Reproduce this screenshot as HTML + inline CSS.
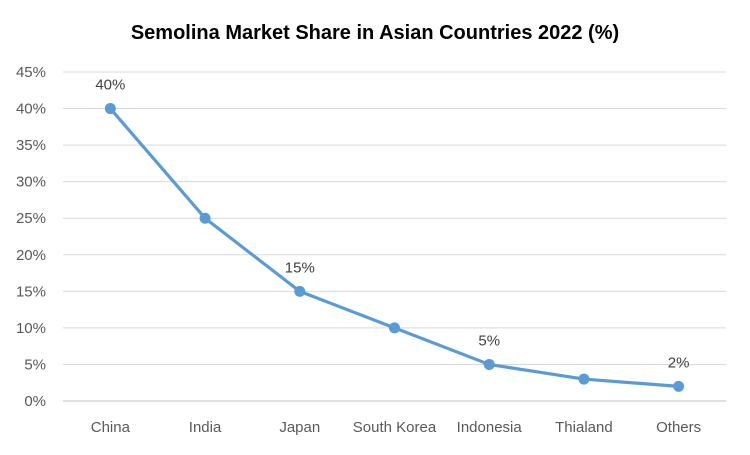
<!DOCTYPE html>
<html><head><meta charset="utf-8"><style>
body{margin:0;background:#fff;}
svg text{font-family:"Liberation Sans",sans-serif;}
</style></head><body>
<svg id="chart" width="750" height="450">
<text x="375" y="39" text-anchor="middle" font-size="20" font-weight="bold" fill="#000">Semolina Market Share in Asian Countries 2022 (%)</text>
<g id="grid"></g><g id="yt"></g><g id="xt"></g><g id="series"></g>
</svg>
<script>
const categories=["China","India","Japan","South Korea","Indonesia","Thialand","Others"];
const values=[40,25,15,10,5,3,2];
const labeled=[true,false,true,false,true,false,true];
const yTicks=[0,5,10,15,20,25,30,35,40,45];
const L=63,R=726,T=72,B=401,yMax=45;
const ns="http://www.w3.org/2000/svg";
const y=v=>B-(v/yMax)*(B-T);
const x=i=>L+(i+0.5)*(R-L)/categories.length;
function mk(tag,attrs,parent){const e=document.createElementNS(ns,tag);for(const k in attrs)e.setAttribute(k,attrs[k]);document.getElementById(parent).appendChild(e);return e;}
yTicks.forEach(t=>{
  const g=mk("line",{x1:L,x2:R,y1:y(t),y2:y(t),stroke:t===0?"#bfbfbf":"#d9d9d9","stroke-width":1},"grid");
  
  
  const tx=mk("text",{x:46,y:y(t)+5,"text-anchor":"end","font-size":15,fill:"#595959"},"yt");
  tx.textContent=t+"%";
  
  
});
categories.forEach((c,i)=>{
  const tx=mk("text",{x:x(i),y:432,"text-anchor":"middle","font-size":15,fill:"#595959"},"xt");
  tx.textContent=c;
  
  
});
const pl=mk("polyline",{points:values.map((v,i)=>x(i)+","+y(v)).join(" "),fill:"none",stroke:"#5b9bd5","stroke-width":3.2,"stroke-linejoin":"round"},"series");


values.forEach((v,i)=>{
  const c=mk("circle",{cx:x(i),cy:y(v),r:5.5,fill:"#5b9bd5"},"series");
  
  
  if(labeled[i]){
    const t=mk("text",{x:x(i),y:y(v)-19,"text-anchor":"middle","font-size":15,fill:"#404040"},"series");
    t.textContent=v+"%";
    
    
  }
});
</script>
</body></html>
